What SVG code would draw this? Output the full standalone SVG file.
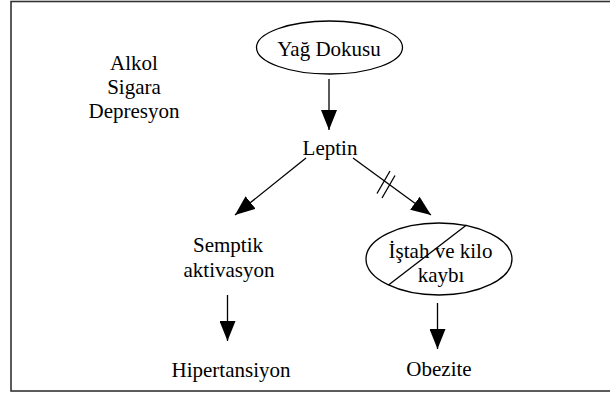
<svg xmlns="http://www.w3.org/2000/svg" width="610" height="393" viewBox="0 0 610 393">
<style>
.lbl{font-family:'Liberation Serif','Times New Roman',Times,serif;font-size:21px;fill:#000;text-anchor:middle}
.shape{fill:none;stroke:#000;stroke-width:1.3}
.edge{fill:none;stroke:#000;stroke-width:1.3}
</style>
<defs>
<marker id="ah" viewBox="0 0 20 16" refX="20" refY="8" markerWidth="20" markerHeight="16" markerUnits="userSpaceOnUse" orient="auto">
<path d="M0,0 L20,8 L0,16 z" fill="#000"/>
</marker>
</defs>
<rect x="0" y="0" width="610" height="393" fill="#fff"/>
<rect id="frame" x="11" y="1.5" width="610" height="389.5" fill="none" stroke="#333" stroke-width="1.6"/>
<g font-family="Liberation Serif, serif" font-size="21" text-anchor="middle">
<g id="risk-factors">
<text class="lbl" x="134" y="70">Alkol</text>
<text class="lbl" x="134" y="94">Sigara</text>
<text class="lbl" x="134" y="118">Depresyon</text>
</g>
<g id="yag-dokusu">
<ellipse class="shape" cx="329.5" cy="47.5" rx="73" ry="26.5"/>
<text class="lbl" x="329" y="56">Yağ Dokusu</text>
</g>
<g id="leptin">
<text class="lbl" x="330" y="155">Leptin</text>
</g>
<g id="semptik">
<text class="lbl" x="228" y="252">Semptik</text>
<text class="lbl" x="229" y="277">aktivasyon</text>
</g>
<g id="istah">
<ellipse class="shape" cx="439" cy="259" rx="73" ry="36"/>
<text class="lbl" x="440.5" y="258">İştah ve kilo</text>
<text class="lbl" x="441" y="282">kaybı</text>
<line class="shape" x1="388.5" y1="285" x2="466.5" y2="225"/>
</g>
<g id="hipertansiyon">
<text class="lbl" x="231" y="377">Hipertansiyon</text>
</g>
<g id="obezite">
<text class="lbl" x="439" y="376">Obezite</text>
</g>
</g>
<g id="connectors">
<line class="edge" x1="329" y1="79" x2="329" y2="130" marker-end="url(#ah)"/>
<line class="edge" x1="306" y1="158" x2="235" y2="215" marker-end="url(#ah)"/>
<line class="edge" x1="353" y1="158" x2="431" y2="215" marker-end="url(#ah)"/>
<line class="edge" x1="377" y1="193.5" x2="390" y2="171"/>
<line class="edge" x1="382" y1="198" x2="395" y2="175.5"/>
<line class="edge" x1="227.5" y1="295" x2="227.5" y2="341" marker-end="url(#ah)"/>
<line class="edge" x1="437.5" y1="303" x2="437.5" y2="349" marker-end="url(#ah)"/>
</g>
</svg>
